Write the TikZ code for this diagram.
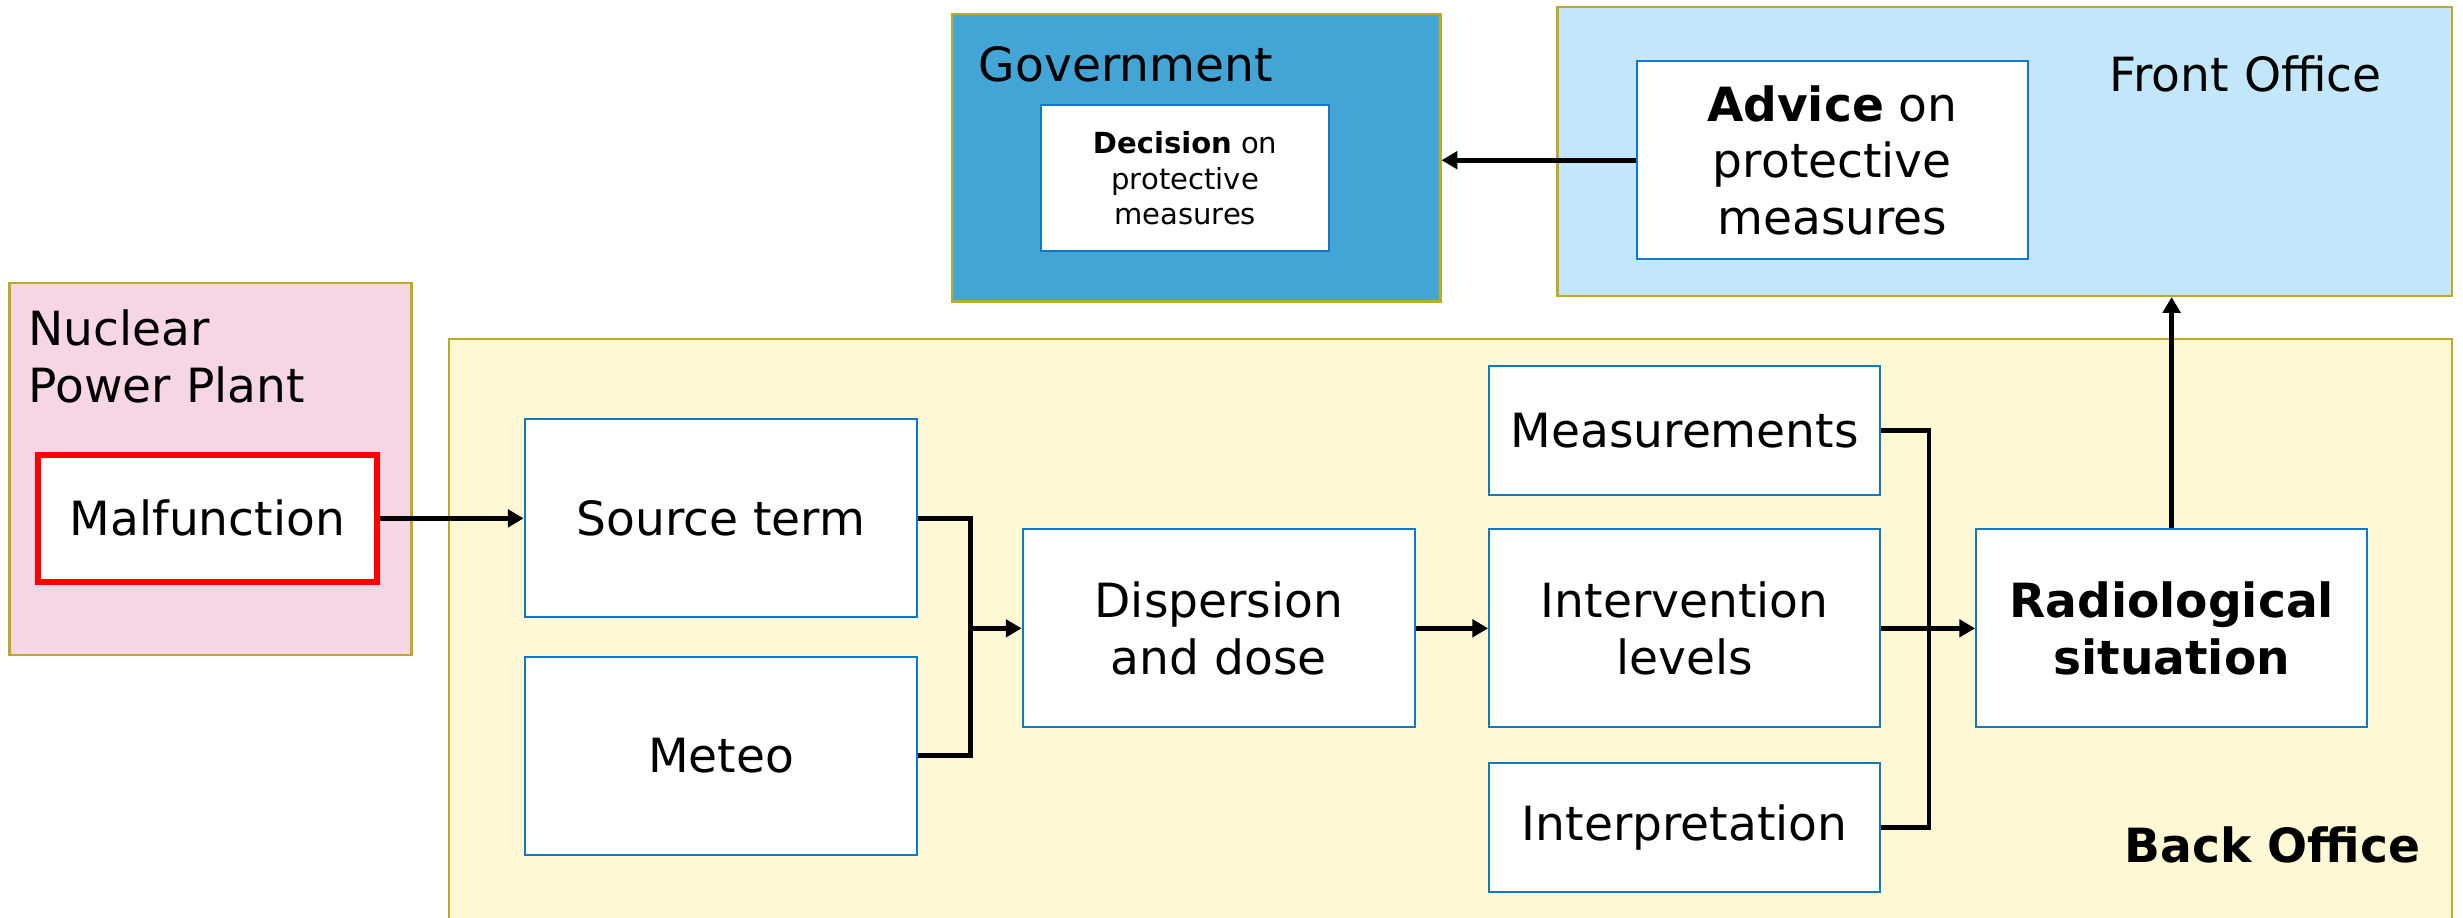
\documentclass[tikz,border=0pt]{standalone}
\usepackage{fontspec}
\setmainfont{DejaVu Sans}
\usetikzlibrary{arrows.meta}

\definecolor{govblue}{RGB}{66,165,214}
\definecolor{frontblue}{RGB}{194,230,250}
\definecolor{backyellow}{RGB}{255,248,212}
\definecolor{npppink}{RGB}{246,214,229}
\definecolor{groupline}{RGB}{191,169,38}
\definecolor{boxline}{RGB}{16,120,200}

\newcommand\boxfont{\fontsize{30}{36}\selectfont}
\newcommand\smallboxfont{\fontsize{18.5}{22.5}\selectfont}

\tikzset{
  group/.style={draw=groupline, line width=1.5pt, inner sep=0pt},
  task/.style={draw=boxline, fill=white, line width=1.3pt, align=center,
    minimum width=250pt, minimum height=126pt, inner sep=0pt},
  flow/.style={line width=3pt, -{Triangle[length=10pt,width=11pt]}},
  feed/.style={line width=3pt},
}

\begin{document}
\begin{tikzpicture}[x=1pt, y=-1pt, nodes = {font=\boxfont}]
  \useasboundingbox (0,0) rectangle (1568,584);
  % Groups
  \node[group, fill=npppink, minimum width=256pt, minimum height=237pt]
    (npp) at (134,298.5) {};
  \node[group, fill=backyellow, minimum width=1275pt, minimum height=384pt]
    (backoffice) at (923.5,408) {};
  \node[group, fill=govblue, minimum width=311pt, minimum height=183pt]
    (government) at (761.5,100.5) {};
  \node[group, fill=frontblue, minimum width=569.5pt, minimum height=183.7pt]
    (frontoffice) at (1276.25,96.5) {};
  % Group labels
  \node[anchor=north west, inner sep=0pt, align=left] (npplabel) at (18,197)
    {Nuclear\\Power Plant};
  \node[anchor=base west, inner sep=0pt] (govlabel) at (623,52) {Government};
  \node[anchor=base west, inner sep=0pt] (frontlabel) at (1343,58) {Front Office};
  \node[anchor=base east, inner sep=0pt, font=\boxfont\bfseries]
    (backlabel) at (1541,549) {Back Office};
  % Boxes
  \node[task, draw=red, line width=4pt, minimum width=216pt, minimum height=81pt]
    (malfunction) at (132,330) {Malfunction};
  \node[task] (source) at (459,330) {Source term};
  \node[task] (meteo) at (459,481) {Meteo};
  \node[task] (dispersion) at (776,400) {Dispersion\\and dose};
  \node[task, minimum width=249pt, minimum height=82pt]
    (measurements) at (1072.5,274) {Measurements};
  \node[task, minimum width=249pt] (intervention) at (1072.5,400) {Intervention\\levels};
  \node[task, minimum width=249pt, minimum height=82pt]
    (interpretation) at (1072.5,527) {Interpretation};
  \node[task, minimum width=249pt, font=\boxfont\bfseries]
    (radiological) at (1382.5,400) {Radiological\\situation};
  \node[task, minimum width=249pt] (advice) at (1166.5,102)
    {\textbf{Advice} on\\protective\\measures};
  \node[task, minimum width=183pt, minimum height=93pt, font=\smallboxfont]
    (decision) at (754.5,113.5) {\textbf{Decision} on\\protective\\measures};
  % Connectors
  \coordinate (srcjoin) at (618,400);
  \coordinate (obsjoin) at (1228,400);
  \draw[flow] (malfunction) -- (source);
  \draw[feed] (source.east) -| (srcjoin);
  \draw[feed] (meteo.east) -| (srcjoin);
  \draw[flow] (srcjoin) -- (dispersion.west);
  \draw[flow] (dispersion) -- (intervention);
  \draw[feed] (measurements.east) -| (obsjoin);
  \draw[feed] (interpretation.east) -| (obsjoin);
  \draw[flow] (intervention) -- (radiological);
  \draw[flow] (radiological.north) -- (radiological.north |- frontoffice.south);
  \draw[flow] (advice.west) -- (government.east |- advice.west);
\end{tikzpicture}
\end{document}
